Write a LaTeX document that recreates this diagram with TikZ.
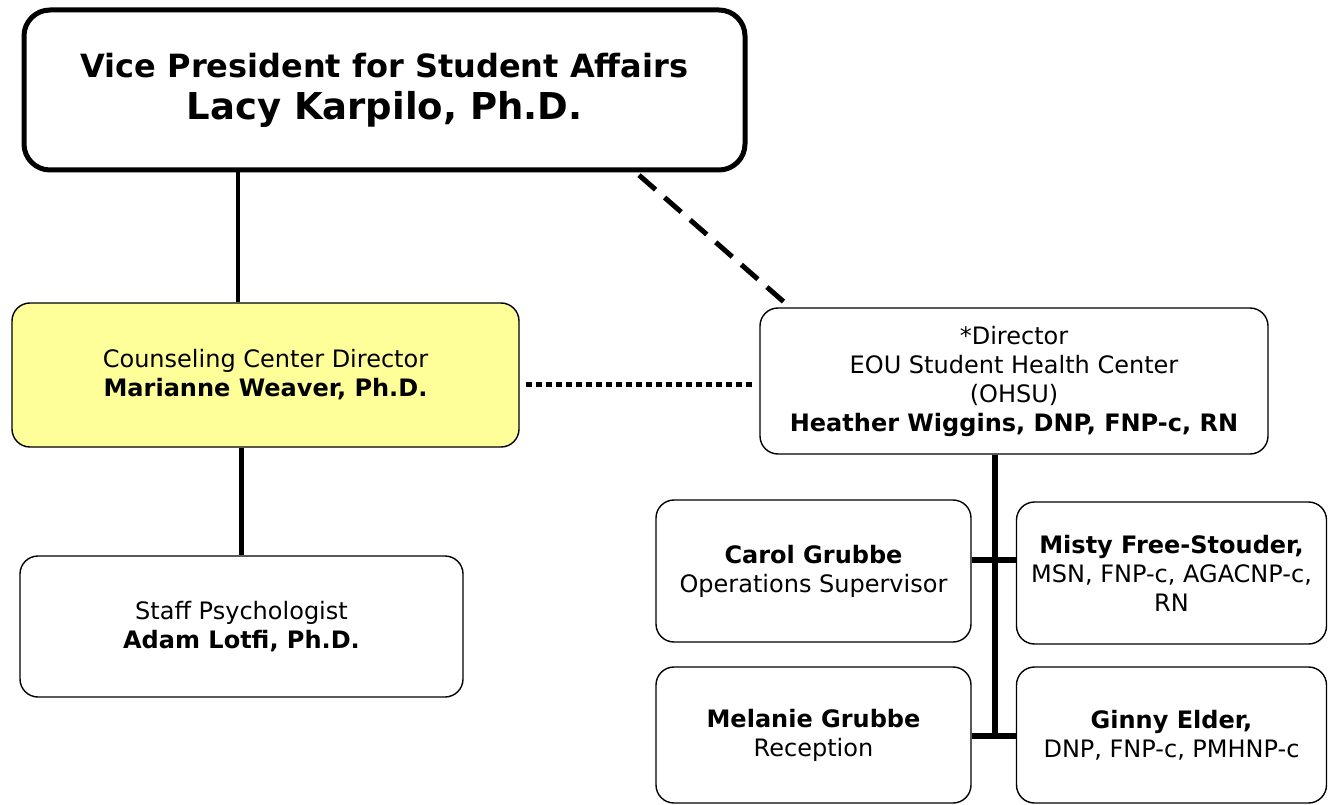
\documentclass[tikz,border=0pt]{standalone}
\usepackage{fontspec}
\setmainfont{DejaVu Sans}
\definecolor{boxyellow}{HTML}{FFFF99}
\begin{document}
\begin{tikzpicture}[x=1pt,y=-1pt,
  box/.style={draw, rounded corners=18pt, line width=1.4pt, align=center, inner sep=0pt,
    font=\fontsize{24}{29}\selectfont},
  conn/.style={line width=5pt},
  dashconn/.style={line width=5pt, dash pattern=on 22pt off 12pt},
  dotconn/.style={line width=5pt, dash pattern=on 6pt off 4pt}]
\useasboundingbox (0,0) rectangle (1336,805);
\fill[white] (0,0) rectangle (1336,805);

\node[box, line width=5pt, rounded corners=26pt, minimum width=721pt, minimum height=160pt,
  font=\bfseries\fontsize{32}{42}\selectfont] (top) at (384.5,90)
  {Vice President for Student Affairs\\
   {\fontsize{37}{42}\selectfont Lacy Karpilo, Ph.D.}};

\node[box, fill=boxyellow, minimum width=507pt, minimum height=144pt] (ccd) at (265.5,375)
  {Counseling Center Director\\\textbf{Marianne Weaver, Ph.D.}};

\node[box, minimum width=443pt, minimum height=141pt] (psy) at (241.5,626.5)
  {Staff Psychologist\\\textbf{Adam Lotfi, Ph.D.}};

\node[box, minimum width=508pt, minimum height=146pt] (dir) at (1014,381)
  {*Director\\EOU Student Health Center\\(OHSU)\\\textbf{Heather Wiggins, DNP, FNP-c, RN}};

\node[box, minimum width=315pt, minimum height=142pt] (carol) at (813.5,571)
  {\textbf{Carol Grubbe}\\Operations Supervisor};
\node[box, minimum width=310pt, minimum height=142pt] (misty) at (1171.5,573)
  {\textbf{Misty Free-Stouder,}\\MSN, FNP-c, AGACNP-c,\\RN};
\node[box, minimum width=315pt, minimum height=136pt] (mel) at (813.5,735)
  {\textbf{Melanie Grubbe}\\Reception};
\node[box, minimum width=310pt, minimum height=136pt] (ginny) at (1171.5,735)
  {\textbf{Ginny Elder,}\\DNP, FNP-c, PMHNP-c};

\coordinate (c1) at (238,0);
\coordinate (c2) at (241,0);
\coordinate (d1) at (636,0);
\coordinate (d2) at (790,0);
\coordinate (dt) at (0,384);
\coordinate (v) at (995,0);
\coordinate (vend) at (995,739);
\coordinate (h1) at (0,560);
\coordinate (h2) at (0,736);

\draw[line width=4pt] (top.south -| c1) -- (ccd.north -| c1);
\draw[conn] (ccd.south -| c2) -- (psy.north -| c2);
\draw[dashconn, shorten <=4pt] (top.south -| d1) -- (dir.north -| d2);
\draw[dotconn, shorten <=6pt, shorten >=6pt] (ccd.east |- dt) -- (dir.west |- dt);
\draw[line width=6pt] (dir.south -| v) -- (vend);
\draw[line width=6pt] (carol.east |- h1) -- (misty.west |- h1);
\draw[line width=6pt] (mel.east |- h2) -- (ginny.west |- h2);
\end{tikzpicture}
\end{document}
